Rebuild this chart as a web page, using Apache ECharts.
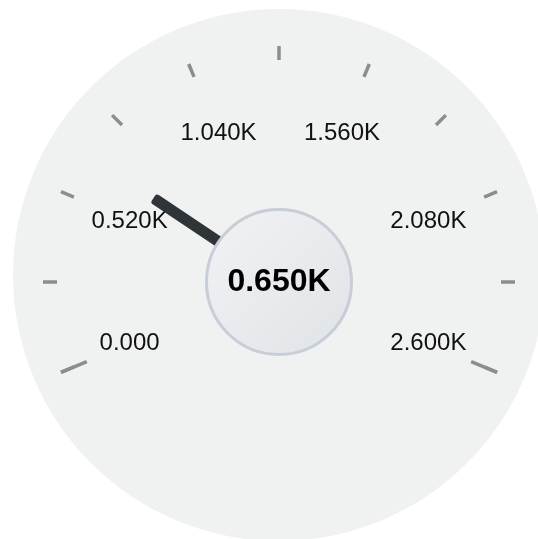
<!DOCTYPE html>
<html>
<head>
<meta charset="utf-8">
<style>
  html, body { margin: 0; padding: 0; background: #fff; }
  #main { width: 538px; height: 539px; }
</style>
<script src="https://cdn.jsdelivr.net/npm/echarts@6/dist/echarts.min.js"></script>
</head>
<body>
<div id="main"></div>
<script>
// gauge data
var minValue = 0
var maxValue = 2600
var currentValue = 650
var tickLabels = ['0.000', '0.520K', '1.040K', '1.560K', '2.080K', '2.600K']

var fontFam = "'Liberation Sans', Arial, sans-serif"
var gaugeCenter = [279, 282]
var startA = 202.5
var endA = -22.5

// small per-label nudges so each label sits like in the picture
var pads = [
  [0, 0, 35, 10],
  [35, 0, 0, 2],
  [58, 0, 0, 36],
  [58, 31, 0, 0],
  [35, 2, 0, 0],
  [0, 2, 35, 0]
]
var rich = {}
tickLabels.forEach(function (t, i) {
  rich['p' + i] = { fontSize: 24, lineHeight: 24, color: '#111', fontFamily: fontFam, padding: pads[i] }
})

function fmtK(v) {
  return (v / 1000).toFixed(3) + 'K'
}

var labelStep = (maxValue - minValue) / (tickLabels.length - 1)

var myChart = echarts.init(document.getElementById('main'))

var hidden = {
  axisLabel: { show: false },
  axisTick: { show: false },
  pointer: { show: false },
  title: { show: false },
  detail: { show: false },
  anchor: { show: false }
}

var option = {
  animation: false,
  series: [
    // background disc
    Object.assign({
      type: 'gauge',
      silent: true,
      center: [279, 275],
      radius: 266,
      startAngle: 90,
      endAngle: -270,
      axisLine: { show: true, lineStyle: { width: 266, color: [[1, '#f0f1f1']] } },
      splitLine: { show: false },
      data: [{ value: 0 }]
    }, hidden),
    // long ticks at both ends
    Object.assign({
      type: 'gauge',
      silent: true,
      center: gaugeCenter,
      radius: 236,
      startAngle: startA,
      endAngle: endA,
      min: minValue,
      max: maxValue,
      splitNumber: 1,
      axisLine: { show: false, lineStyle: { width: 0 } },
      splitLine: { show: true, length: 28, distance: 0, lineStyle: { width: 3.5, color: '#8a8e91' } },
      data: [{ value: currentValue }]
    }, hidden),
    // main gauge
    {
      type: 'gauge',
      center: gaugeCenter,
      radius: 236,
      startAngle: startA,
      endAngle: endA,
      min: minValue,
      max: maxValue,
      splitNumber: 10,
      axisLine: { show: false, lineStyle: { width: 0 } },
      splitLine: { show: true, length: 14, distance: 0, lineStyle: { width: 3.5, color: '#8a8e91' } },
      axisTick: { show: false },
      axisLabel: {
        show: true,
        distance: 17,
        formatter: function (v) {
          var idx = Math.round((v - minValue) / labelStep)
          if (Math.abs(v - minValue - idx * labelStep) > 1) return ''
          return '{p' + idx + '|' + tickLabels[idx] + '}'
        },
        rich: rich
      },
      pointer: {
        show: true,
        icon: 'roundRect',
        length: 151,
        width: 11,
        offsetCenter: [0, 0],
        itemStyle: { color: '#2e3437' }
      },
      anchor: {
        show: true,
        showAbove: true,
        size: 145,
        itemStyle: {
          color: {
            type: 'linear', x: 0, y: 0, x2: 1, y2: 1,
            colorStops: [{ offset: 0, color: '#f1f2f4' }, { offset: 1, color: '#e0e3e7' }]
          },
          borderColor: '#c7ced8',
          borderWidth: 3
        }
      },
      title: { show: false },
      detail: { show: false },
      data: [{ value: currentValue }]
    },
    // centre value text on top
    Object.assign({}, hidden, {
      type: 'gauge',
      z: 5,
      center: gaugeCenter,
      radius: 236,
      startAngle: startA,
      endAngle: endA,
      min: minValue,
      max: maxValue,
      axisLine: { show: false, lineStyle: { width: 0 } },
      splitLine: { show: false },
      detail: {
        show: true,
        offsetCenter: [0, 0],
        fontSize: 32,
        fontWeight: 'bold',
        fontFamily: fontFam,
        color: '#000',
        formatter: fmtK
      },
      data: [{ value: currentValue }]
    })
  ]
}

myChart.setOption(option)
</script>
</body>
</html>
